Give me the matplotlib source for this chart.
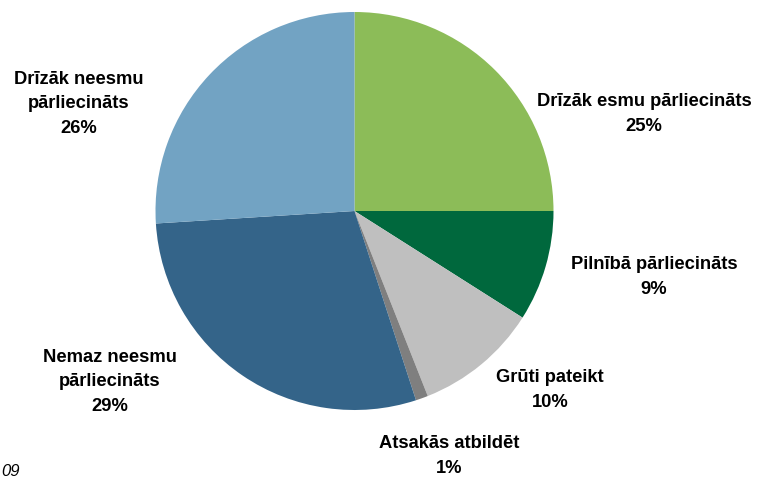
import matplotlib.pyplot as plt

plt.rcParams['font.family'] = ['Liberation Sans', 'DejaVu Sans']

labels = ["Drīzāk esmu pārliecināts", "Pilnībā pārliecināts", "Grūti pateikt",
          "Atsakās atbildēt", "Nemaz neesmu\npārliecināts", "Drīzāk neesmu\npārliecināts"]
shares = [25, 9, 10, 1, 29, 26]
colors = ["#8CBC58", "#00683D", "#BFBFBF", "#7F7F7F", "#346489", "#72A3C3"]
year_note = "09"

# label centres in pixels (x, y from top)
label_pos = [(644, 114), (654, 277), (550, 390), (449, 456), (110, 382), (79, 104)]

W, H = 778, 478
fig = plt.figure(figsize=(W / 100, H / 100), dpi=100)

cx, cy, r = 354.5, 211, 199
ax = fig.add_axes([(cx - r) / W, (H - cy - r) / H, 2 * r / W, 2 * r / H])
ax.pie(shares, colors=colors, startangle=90, counterclock=False, radius=1,
       wedgeprops=dict(linewidth=0))
ax.set_xlim(-1, 1)
ax.set_ylim(-1, 1)
ax.set_aspect("equal")
ax.axis("off")

for lab, val, (x, y) in zip(labels, shares, label_pos):
    fig.text(x / W, 1 - y / H, f"{lab}\n{val}%", ha="center", va="center",
             fontsize=13.2, fontweight="bold", linespacing=1.6, color="black")

fig.text(1 / W, 1 - 476 / H, year_note, ha="left", va="baseline",
         fontsize=12, style="italic")

fig.savefig("out.png", dpi=100)
